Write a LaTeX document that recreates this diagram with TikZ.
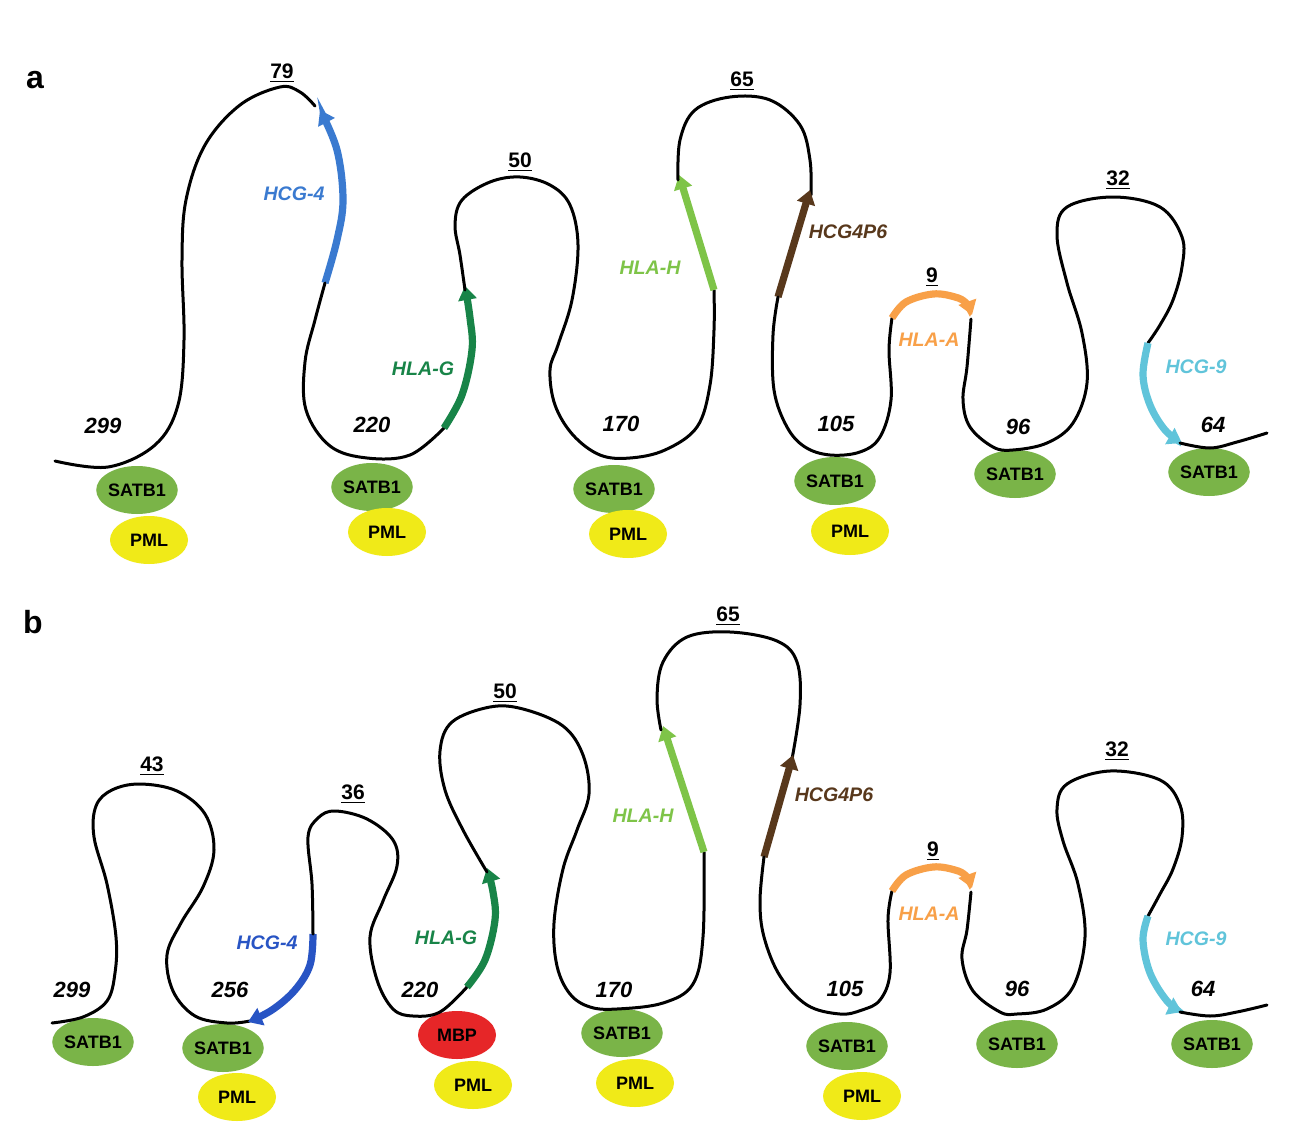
\documentclass[tikz,border=0pt]{standalone}
\usepackage{fontspec}
\setmainfont{Liberation Sans}
\usetikzlibrary{arrows.meta,shapes.geometric}
\definecolor{cblueA}{RGB}{58,122,208}
\definecolor{cblueB}{RGB}{40,84,196}
\definecolor{cgreenG}{RGB}{24,132,72}
\definecolor{cgreenH}{RGB}{126,196,72}
\definecolor{cbrown}{RGB}{88,56,28}
\definecolor{corange}{RGB}{248,160,72}
\definecolor{ccyan}{RGB}{96,196,218}
\definecolor{csatb}{RGB}{122,180,72}
\definecolor{cpml}{RGB}{240,234,24}
\definecolor{cmbp}{RGB}{230,38,40}
\tikzset{
  chain/.style={line width=1.5pt, line cap=round, line join=round},
  gene/.style={line width=3.6pt, -{Triangle[width=9pt,length=7pt]}},
  num/.style={font=\fontsize{11}{13}\selectfont\bfseries\itshape, inner sep=0pt},
  top/.style={font=\fontsize{10.5}{12}\selectfont\bfseries, inner sep=0pt},
  glab/.style={font=\fontsize{9.8}{12}\selectfont\bfseries\itshape, inner sep=0pt},
  panel/.style={font=\fontsize{16}{18}\selectfont\bfseries, inner sep=0pt},
  prot/.style={ellipse, minimum width=39pt, minimum height=24pt, inner sep=0pt,
    font=\fontsize{9}{10}\selectfont\bfseries},
  satb/.style={prot, fill=csatb},
  pml/.style={prot, fill=cpml},
  mbp/.style={prot, fill=cmbp},
}
\begin{document}
\begin{tikzpicture}[x=0.5pt,y=-0.5pt]
\fill[white] (0,0) rectangle (1301,1145);
\useasboundingbox (0,0) rectangle (1301,1145);

% ================= panel a =================
\node[panel] (pa) at (35,80) {a};
\node[satb] (sa1) at (137,490) {SATB1};
\node[pml]  (pa1) at (149,540) {PML};
\node[satb] (sa2) at (372,487) {SATB1};
\node[pml]  (pa2) at (387,532) {PML};
\node[satb] (sa3) at (614,489) {SATB1};
\node[pml]  (pa3) at (628,534) {PML};
\node[satb] (sa4) at (835,481) {SATB1};
\node[pml]  (pa4) at (850,531) {PML};
\node[satb] (sa5) at (1015,474) {SATB1};
\node[satb] (sa6) at (1209,472) {SATB1};

\draw[chain] plot[smooth,tension=0.6] coordinates {(55,461) (108,467) (155,445) (178,405) (184,340) (182,260) (186,200) (205,145) (240,105) (280,87) (300,92) (315,106)};
\draw[gene,cblueA] plot[smooth,tension=0.6] coordinates {(325,283) (337,240) (343,200) (337,150) (320,110)};
\draw[chain] plot[smooth,tension=0.6] coordinates {(325,283) (315,320) (305,362) (306,410) (330,446) (367,458) (410,455) (444,428)};
\draw[gene,cgreenG] plot[smooth,tension=0.6] coordinates {(444,428) (462,395) (472,350) (470,318) (465,286)};
\draw[chain] plot[smooth,tension=0.6] coordinates {(465,290) (460,255) (455,225) (462,200) (490,182) (520,177) (550,185) (570,205) (578,245) (572,300) (558,345) (550,370) (555,405) (573,435) (600,455) (630,458) (665,450) (697,427) (710,385) (714,330) (714,290)};
\draw[gene,cgreenH] (714,290) -- (679,175);
\draw[chain] plot[smooth,tension=0.6] coordinates {(678,180) (680,140) (695,110) (730,97) (770,100) (800,125) (810,160) (811,195)};
\draw[gene,cbrown] (778,297) -- (810,190);
\draw[chain] plot[smooth,tension=0.6] coordinates {(778,297) (773,335) (774,390) (787,427) (805,447) (830,455) (860,452) (880,437) (891,400) (889,350) (892,318)};
\draw[gene,corange] plot[smooth,tension=0.6] coordinates {(892,318) (906,302) (933,294) (955,297) (966,303) (972,315)};
\draw[chain] plot[smooth,tension=0.6] coordinates {(971,319) (967,367) (963,400) (970,427) (993,447) (1013,450) (1047,443) (1073,423) (1087,383) (1082,333) (1067,283) (1057,235) (1067,207) (1113,197) (1160,207) (1182,237) (1182,267) (1173,300) (1160,325) (1148,343)};
\draw[gene,ccyan] plot[smooth,tension=0.6] coordinates {(1148,343) (1143,375) (1150,405) (1165,430) (1182,443)};
\draw[chain] plot[smooth,tension=0.6] coordinates {(1180,443) (1210,448) (1237,442) (1267,433)};

\node[top] (ta1) at (282,73) {\underline{79}};
\node[top] (ta2) at (520,162) {\underline{50}};
\node[top] (ta3) at (742,81) {\underline{65}};
\node[top] (ta4) at (932,277) {\underline{9}};
\node[top] (ta5) at (1118,180) {\underline{32}};

\node[glab,cblueA]  (ga1) at (294,194) {HCG-4};
\node[glab,cgreenG] (ga2) at (423,369) {HLA-G};
\node[glab,cgreenH] (ga3) at (650,268) {HLA-H};
\node[glab,cbrown]  (ga4) at (848,232) {HCG4P6};
\node[glab,corange] (ga5) at (929,340) {HLA-A};
\node[glab,ccyan]   (ga6) at (1196,367) {HCG-9};

\node[num] (na1) at (103,426) {299};
\node[num] (na2) at (372,425) {220};
\node[num] (na3) at (621,424) {170};
\node[num] (na4) at (836,424) {105};
\node[num] (na5) at (1018,427) {96};
\node[num] (na6) at (1213,425) {64};

% ================= panel b =================
\node[panel] (pb) at (33,622) {b};
\node[satb] (sb1) at (93,1042) {SATB1};
\node[satb] (sb2) at (223,1048) {SATB1};
\node[pml]  (pb2) at (237,1097) {PML};
\node[mbp]  (mb3) at (457,1035) {MBP};
\node[pml]  (pb3) at (473,1085) {PML};
\node[satb] (sb4) at (622,1033) {SATB1};
\node[pml]  (pb4) at (635,1083) {PML};
\node[satb] (sb5) at (847,1046) {SATB1};
\node[pml]  (pb5) at (862,1096) {PML};
\node[satb] (sb6) at (1017,1044) {SATB1};
\node[satb] (sb7) at (1212,1044) {SATB1};

\draw[chain] plot[smooth,tension=0.6] coordinates {(52,1023) (83,1017) (107,1001) (115,973) (116,937) (107,884) (94,837) (96,806) (112,790) (140,784) (177,791) (205,814) (214,850) (203,887) (181,923) (167,955) (173,991) (195,1016) (227,1023) (250,1021)};
\draw[gene,cblueB] plot[smooth,tension=0.6] coordinates {(313,934) (310,965) (295,990) (272,1010) (248,1022)};
\draw[chain] plot[smooth,tension=0.6] coordinates {(313,934) (312,884) (308,837) (318,818) (335,811) (367,819) (393,840) (397,866) (383,901) (370,937) (377,980) (393,1009) (413,1016) (440,1012) (467,987)};
\draw[gene,cgreenG] plot[smooth,tension=0.6] coordinates {(467,987) (485,960) (495,920) (493,892) (487,868)};
\draw[chain] plot[smooth,tension=0.6] coordinates {(487,872) (463,830) (445,790) (440,751) (452,722) (490,707) (523,709) (563,726) (583,755) (589,794) (577,830) (563,869) (554,923) (557,966) (570,994) (590,1007) (617,1009) (663,1003) (693,984) (703,937) (704,852)};
\draw[gene,cgreenH] (704,852) -- (663,726);
\draw[chain] plot[smooth,tension=0.6] coordinates {(661,730) (657,698) (663,662) (687,637) (730,632) (777,641) (797,662) (800,705) (792,759)};
\draw[gene,cbrown] (764,857) -- (793,755);
\draw[chain] plot[smooth,tension=0.6] coordinates {(764,857) (760,901) (764,937) (780,976) (807,1005) (840,1014) (862,1010) (880,1000) (890,973) (888,919) (892,891)};
\draw[gene,corange] plot[smooth,tension=0.6] coordinates {(892,891) (906,875) (933,867) (955,870) (966,876) (972,888)};
\draw[chain] plot[smooth,tension=0.6] coordinates {(971,892) (967,930) (962,959) (973,991) (1000,1012) (1017,1014) (1047,1009) (1073,987) (1085,937) (1078,884) (1063,841) (1057,809) (1067,784) (1110,771) (1160,780) (1180,805) (1182,837) (1173,869) (1160,894) (1148,916)};
\draw[gene,ccyan] plot[smooth,tension=0.6] coordinates {(1148,916) (1143,940) (1150,973) (1167,1001) (1182,1012)};
\draw[chain] plot[smooth,tension=0.6] coordinates {(1180,1012) (1210,1016) (1237,1012) (1267,1005)};

\node[top] (tb1) at (152,766) {\underline{43}};
\node[top] (tb2) at (353,794) {\underline{36}};
\node[top] (tb3) at (505,693) {\underline{50}};
\node[top] (tb4) at (728,616) {\underline{65}};
\node[top] (tb5) at (933,851) {\underline{9}};
\node[top] (tb6) at (1117,751) {\underline{32}};

\node[glab,cblueB]  (gb1) at (267,943) {HCG-4};
\node[glab,cgreenG] (gb2) at (446,938) {HLA-G};
\node[glab,cgreenH] (gb3) at (643,816) {HLA-H};
\node[glab,cbrown]  (gb4) at (834,795) {HCG4P6};
\node[glab,corange] (gb5) at (929,914) {HLA-A};
\node[glab,ccyan]   (gb6) at (1196,939) {HCG-9};

\node[num] (nb1) at (72,990) {299};
\node[num] (nb2) at (230,990) {256};
\node[num] (nb3) at (420,990) {220};
\node[num] (nb4) at (614,990) {170};
\node[num] (nb5) at (845,989) {105};
\node[num] (nb6) at (1017,989) {96};
\node[num] (nb7) at (1203,989) {64};
\end{tikzpicture}
\end{document}
